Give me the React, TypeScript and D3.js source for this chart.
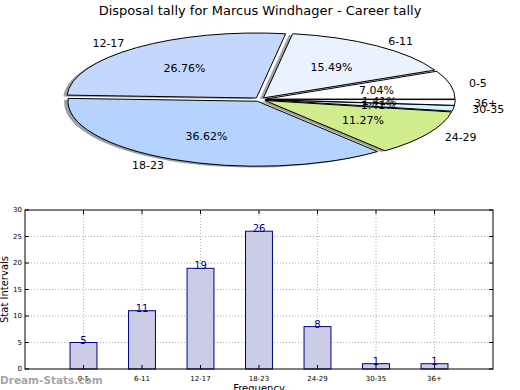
import React, { useRef, useEffect } from 'react';
import * as d3 from 'd3';

const categories = ['0-5', '6-11', '12-17', '18-23', '24-29', '30-35', '36+'];
const tally = [5, 11, 19, 26, 8, 1, 1];
const sliceColors = ['#ffffff', '#eaf1ff', '#c4d8fe', '#b4d3ff', '#d1ec8d', '#cff3ff', '#ffffff'];
const yTicks = [0, 5, 10, 15, 20, 25, 30];

const FONT = "'DejaVu Sans', sans-serif";

const App = () => {
  const svgRef = useRef<SVGSVGElement>(null);

  useEffect(() => {
    const svg = d3.select(svgRef.current);
    svg.selectAll('*').remove();
    svg.style('font-family', FONT);

    // title
    svg.append('text')
      .attr('x', 260).attr('y', 15)
      .attr('text-anchor', 'middle')
      .style('font-size', '13px')
      .text('Disposal tally for Marcus Windhager - Career tally');

    // ---- pie (matplotlib style, squashed) ----
    const cx = 260, cy = 99.5, rx = 189.5, ry = 65;
    const explode = 0.03;
    const total = d3.sum(tally);
    const ends = d3.cumsum(tally).map(v => v / total * 2 * Math.PI);
    const starts = [0, ...ends.slice(0, -1)];
    const arc = d3.arc<any>().innerRadius(0).outerRadius(rx);
    const sy = ry / rx;

    const slices = tally.map((v, i) => {
      const t0 = starts[i], t1 = ends[i];
      const tm = (t0 + t1) / 2;
      return { v, i, t0, t1, tm };
    });

    const pie = svg.append('g');
    // shadows first
    slices.forEach(s => {
      const ox = cx + explode * rx * Math.cos(s.tm) - 0.02 * rx;
      const oy = cy - explode * ry * Math.sin(s.tm) + 0.02 * ry;
      const c = d3.rgb(sliceColors[s.i]);
      pie.append('path')
        .attr('transform', `translate(${ox},${oy}) scale(1,${sy})`)
        .attr('d', arc({ startAngle: Math.PI / 2 - s.t0, endAngle: Math.PI / 2 - s.t1 }))
        .attr('fill', d3.rgb(c.r * 0.3, c.g * 0.3, c.b * 0.3).toString())
        .attr('fill-opacity', 0.5);
    });
    slices.forEach(s => {
      const ox = cx + explode * rx * Math.cos(s.tm);
      const oy = cy - explode * ry * Math.sin(s.tm);
      pie.append('path')
        .attr('transform', `translate(${ox},${oy}) scale(1,${sy})`)
        .attr('d', arc({ startAngle: Math.PI / 2 - s.t0, endAngle: Math.PI / 2 - s.t1 }))
        .attr('fill', sliceColors[s.i])
        .attr('stroke', '#000')
        .attr('stroke-width', 1)
        .attr('vector-effect', 'non-scaling-stroke');
    });
    slices.forEach(s => {
      const c = Math.cos(s.tm), sn = Math.sin(s.tm);
      const lx = cx + (1.1 + explode) * rx * c;
      const ly = cy - (1.1 + explode) * ry * sn;
      pie.append('text')
        .attr('x', lx).attr('y', ly)
        .attr('dy', '0.35em')
        .attr('text-anchor', c > 0 ? 'start' : 'end')
        .style('font-size', '11px')
        .text(categories[s.i]);
      const px = cx + (0.6 + explode) * rx * c;
      const py = cy - (0.6 + explode) * ry * sn;
      pie.append('text')
        .attr('x', px).attr('y', py)
        .attr('dy', '0.35em')
        .attr('text-anchor', 'middle')
        .style('font-size', '11px')
        .text(`${(s.v / total * 100).toFixed(2)}%`);
    });

    // ---- bar chart ----
    const x = d3.scaleLinear().domain([-1, 7]).range([25, 493]);
    const y = d3.scaleLinear().domain([0, 30]).range([369, 210]);
    const g = svg.append('g');

    // grid
    categories.forEach((_, i) => {
      g.append('line')
        .attr('x1', x(i)).attr('x2', x(i))
        .attr('y1', y(0)).attr('y2', y(30))
        .attr('stroke', '#b0b0b0').attr('stroke-dasharray', '1,2');
    });
    yTicks.slice(1, -1).forEach(t => {
      g.append('line')
        .attr('x1', x(-1)).attr('x2', x(7))
        .attr('y1', y(t)).attr('y2', y(t))
        .attr('stroke', '#b0b0b0').attr('stroke-dasharray', '1,2');
    });

    const bw = x(0.46) - x(0);
    tally.forEach((v, i) => {
      g.append('rect')
        .attr('x', x(i) - bw / 2).attr('y', y(v))
        .attr('width', bw).attr('height', y(0) - y(v))
        .attr('fill', '#cbcce5')
        .attr('stroke', '#000080').attr('stroke-width', 1);
      g.append('text')
        .attr('x', x(i)).attr('y', y(v) + 1)
        .attr('text-anchor', 'middle')
        .attr('fill', '#000080')
        .style('font-size', '10px')
        .text(v);
    });

    // frame
    g.append('rect')
      .attr('x', x(-1)).attr('y', y(30))
      .attr('width', x(7) - x(-1)).attr('height', y(0) - y(30))
      .attr('fill', 'none').attr('stroke', '#000').attr('stroke-width', 1);

    // ticks
    yTicks.forEach(t => {
      g.append('line').attr('x1', x(-1)).attr('x2', x(-1) + 4)
        .attr('y1', y(t)).attr('y2', y(t)).attr('stroke', '#000');
      g.append('line').attr('x1', x(7)).attr('x2', x(7) - 4)
        .attr('y1', y(t)).attr('y2', y(t)).attr('stroke', '#000');
      g.append('text')
        .attr('x', x(-1) - 3).attr('y', y(t))
        .attr('dy', '0.35em')
        .attr('text-anchor', 'end')
        .style('font-size', '7px')
        .text(t);
    });
    categories.forEach((c, i) => {
      g.append('line').attr('x1', x(i)).attr('x2', x(i))
        .attr('y1', y(0)).attr('y2', y(0) - 4).attr('stroke', '#000');
      g.append('line').attr('x1', x(i)).attr('x2', x(i))
        .attr('y1', y(30)).attr('y2', y(30) + 4).attr('stroke', '#000');
      g.append('text')
        .attr('x', x(i)).attr('y', 381)
        .attr('text-anchor', 'middle')
        .style('font-size', '7px')
        .text(c);
    });

    g.append('text')
      .attr('transform', `translate(8,${(y(0) + y(30)) / 2}) rotate(-90)`)
      .attr('text-anchor', 'middle')
      .style('font-size', '10px')
      .text('Stat Intervals');
    g.append('text')
      .attr('x', (x(-1) + x(7)) / 2).attr('y', 392)
      .attr('text-anchor', 'middle')
      .style('font-size', '10px')
      .text('Frequency');

    // watermark
    svg.append('text')
      .attr('x', 0).attr('y', 384)
      .attr('fill', '#9a9a9a')
      .attr('fill-opacity', 0.9)
      .style('font-size', '10.5px')
      .style('font-weight', 'bold')
      .text('Dream-Stats.com');
  }, []);

  return (
    <svg
      ref={svgRef}
      width={520}
      height={390}
      style={{ position: 'absolute', left: 0, top: 0, background: '#fff' }}
    />
  );
};

export default App;
